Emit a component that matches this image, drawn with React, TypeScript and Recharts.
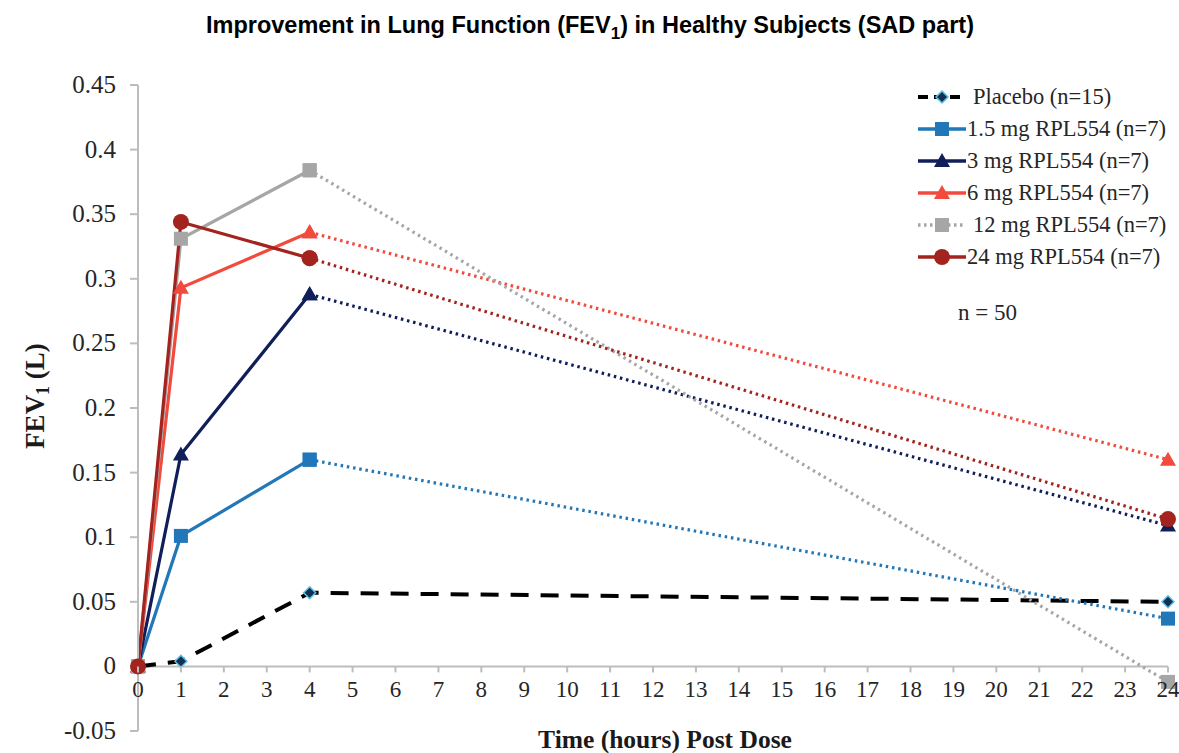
import { Legend, Line, LineChart, ReferenceLine, XAxis, YAxis } from "recharts";

// time points (hours post dose)
const hours = [0, 1, 4, 24];

// FEV1 change (L) per dose group
const placebo = [0, 0.004, 0.057, 0.05];
const mg1_5 = [0, 0.101, 0.16, 0.037];
const mg3 = [0, 0.164, 0.288, 0.109];
const mg6 = [0, 0.293, 0.336, 0.16];
const mg12 = [0, 0.331, 0.384, -0.012];
const mg24 = [0, 0.344, 0.316, 0.114];

const seriesNames = [
  "Placebo (n=15)",
  "1.5 mg RPL554 (n=7)",
  "3 mg RPL554 (n=7)",
  "6 mg RPL554 (n=7)",
  "12 mg RPL554 (n=7)",
  "24 mg RPL554 (n=7)",
];

const xTicks = [0, 1, 2, 3, 4, 5, 6, 7, 8, 9, 10, 11, 12, 13, 14, 15, 16, 17, 18, 19, 20, 21, 22, 23, 24];
const yTicks = [-0.05, 0, 0.05, 0.1, 0.15, 0.2, 0.25, 0.3, 0.35, 0.4, 0.45];

const W = 1179;
const H = 753;
const TOP = 85;
const X_AXIS_H = 20;
const BOTTOM = 2;
const Y_MIN = -0.05;
const Y_MAX = 0.45;
const PLOT_H = H - TOP - BOTTOM - X_AXIS_H;
const ZERO_Y = TOP + (Y_MAX / (Y_MAX - Y_MIN)) * PLOT_H;

const AXIS = "#bdbdbd";
const SERIF = "Liberation Serif";

type Shape = "diamond" | "square" | "triangle" | "circle";

const groups = [
  { key: "placebo", values: placebo, color: "#000000", fill: "#14304f", edge: "#5cc0ea", shape: "diamond" as Shape, dashed: true },
  { key: "g15", values: mg1_5, color: "#2277b8", fill: "#2277b8", edge: "#2277b8", shape: "square" as Shape },
  { key: "g3", values: mg3, color: "#101e5a", fill: "#101e5a", edge: "#101e5a", shape: "triangle" as Shape },
  { key: "g6", values: mg6, color: "#f24a3d", fill: "#f24a3d", edge: "#f24a3d", shape: "triangle" as Shape },
  { key: "g12", values: mg12, color: "#a6a6a6", fill: "#a6a6a6", edge: "#a6a6a6", shape: "square" as Shape, legendDotted: true },
  { key: "g24", values: mg24, color: "#a3231f", fill: "#a3231f", edge: "#a3231f", shape: "circle" as Shape },
];

// solid part runs 0..4 h, dotted part 4..24 h
const rows = hours.map((h, i) => {
  const row: Record<string, number | null> = { hour: h };
  groups.forEach((g) => {
    if (g.dashed) {
      row[g.key] = g.values[i];
    } else {
      row[g.key + "_a"] = i <= 2 ? g.values[i] : null;
      row[g.key + "_b"] = i >= 2 ? g.values[i] : null;
    }
  });
  return row;
});

function marker(shape: Shape, cx: number, cy: number, fill: string, edge: string, key?: string) {
  if (shape === "diamond") {
    const s = 6;
    return (
      <polygon key={key} points={`${cx},${cy - s} ${cx + s},${cy} ${cx},${cy + s} ${cx - s},${cy}`} fill={fill} stroke={edge} strokeWidth={1.5} />
    );
  }
  if (shape === "square") {
    const s = 7;
    return <rect key={key} x={cx - s} y={cy - s} width={s * 2} height={s * 2} fill={fill} />;
  }
  if (shape === "triangle") {
    const s = 8;
    return <polygon key={key} points={`${cx},${cy - s} ${cx + s},${cy + s * 0.75} ${cx - s},${cy + s * 0.75}`} fill={fill} />;
  }
  return <circle key={key} cx={cx} cy={cy} r={8} fill={fill} />;
}

const makeDot = (shape: Shape, fill: string, edge: string) => (props: any) => {
  const { cx, cy, index, dataKey } = props;
  if (cx == null || cy == null || props.value == null) return <g key={`${dataKey}-${index}`} />;
  return marker(shape, cx, cy, fill, edge, `${dataKey}-${index}`);
};

const XTick = (props: any) => {
  const { x, payload } = props;
  return (
    <g>
      <line x1={x} x2={x} y1={ZERO_Y} y2={ZERO_Y + 6} stroke={AXIS} strokeWidth={2} />
      <text x={x} y={ZERO_Y + 31} textAnchor="middle" fontFamily={SERIF} fontSize={23} fill="#262626">
        {payload.value}
      </text>
    </g>
  );
};

const YTick = (props: any) => {
  const { x, y, payload } = props;
  return (
    <text x={x} y={y + 8} textAnchor="end" fontFamily={SERIF} fontSize={25} fill="#262626">
      {payload.value}
    </text>
  );
};

const LegendBox = (props: any) => {
  const payload = (props.payload || []).filter((p: any) => seriesNames.includes(p.value));
  payload.sort((a: any, b: any) => seriesNames.indexOf(a.value) - seriesNames.indexOf(b.value));
  return (
    <div style={{ fontFamily: SERIF, fontSize: 22.5, color: "#262626", lineHeight: "32px", whiteSpace: "nowrap" }}>
      {payload.map((p: any) => {
        const g = groups[seriesNames.indexOf(p.value)];
        return (
          <div key={p.value} style={{ display: "flex", alignItems: "center", height: 32 }}>
            <svg width={50} height={20} style={{ marginRight: g.dashed || g.legendDotted ? 7 : 1, flexShrink: 0 }}>
              <line
                x1={2}
                x2={50}
                y1={10}
                y2={10}
                stroke={g.color}
                strokeWidth={g.dashed ? 4 : 3.4}
                strokeDasharray={g.dashed ? "10 6" : g.legendDotted ? "2.5 3.5" : undefined}
              />
              {marker(g.shape, 26, 10, g.fill, g.edge)}
            </svg>
            <span>{p.value}</span>
          </div>
        );
      })}
      <div style={{ marginTop: 24, marginLeft: 42, fontSize: 23 }}>n = 50</div>
    </div>
  );
};

export default function App() {
  return (
    <div style={{ position: "absolute", left: 0, top: 0, width: W, height: H, background: "#fff" }}>
      <div
        style={{
          position: "absolute",
          left: 0,
          top: 12,
          width: 1180,
          textAlign: "center",
          fontFamily: "Liberation Sans",
          fontWeight: "bold",
          fontSize: 23.5,
          color: "#000",
          zIndex: 2,
        }}
      >
        Improvement in Lung Function (FEV<sub style={{ fontSize: 17 }}>1</sub>) in Healthy Subjects (SAD part)
      </div>
      <LineChart width={W} height={H} data={rows} margin={{ top: TOP, right: 11, bottom: BOTTOM, left: 0 }}>
        <XAxis
          dataKey="hour"
          type="number"
          domain={[0, 24]}
          ticks={xTicks}
          axisLine={false}
          tickLine={false}
          height={X_AXIS_H}
          tick={XTick}
          interval={0}
          label={{
            content: () => (
              <text x={665} y={748} textAnchor="middle" fontFamily={SERIF} fontWeight="bold" fontSize={25.5} fill="#1a1a1a">
                Time (hours) Post Dose
              </text>
            ),
          }}
        />
        <YAxis
          type="number"
          domain={[Y_MIN, Y_MAX]}
          ticks={yTicks}
          width={138}
          interval={0}
          axisLine={{ stroke: AXIS, strokeWidth: 2 }}
          tickLine={{ stroke: AXIS, strokeWidth: 2 }}
          tickSize={8}
          tickMargin={14}
          tick={YTick}
          label={{
            content: (lp: any) => {
              const vb = lp.viewBox || {};
              const cy = (vb.y ?? TOP) + (vb.height ?? PLOT_H) / 2 - 12;
              return (
                <text
                  x={44}
                  y={cy}
                  transform={`rotate(-90, 44, ${cy})`}
                  textAnchor="middle"
                  fontFamily={SERIF}
                  fontWeight="bold"
                  fontSize={27}
                  fill="#1a1a1a"
                >
                  FEV
                  <tspan fontSize={18} dy={5}>1</tspan>
                  <tspan dy={-5}> (L)</tspan>
                </text>
              );
            },
          }}
        />
        <ReferenceLine y={0} stroke={AXIS} strokeWidth={2} />
        <Legend
          layout="vertical"
          align="center"
          verticalAlign="middle"
          content={LegendBox}
          wrapperStyle={{ position: "absolute", left: 916, top: 81, width: 263, height: "auto" }}
        />
        {groups.map((g, gi) =>
          g.dashed ? (
            <Line
              key={g.key}
              name={seriesNames[gi]}
              dataKey={g.key}
              stroke={g.color}
              strokeWidth={4}
              strokeDasharray="18 12"
              dot={makeDot(g.shape, g.fill, g.edge)}
              isAnimationActive={false}
            />
          ) : (
            [
              <Line
                key={g.key + "_b"}
                name={seriesNames[gi] + " "}
                legendType="none"
                dataKey={g.key + "_b"}
                stroke={g.color}
                strokeWidth={3.2}
                strokeDasharray="2.5 3.8"
                dot={makeDot(g.shape, g.fill, g.edge)}
                isAnimationActive={false}
              />,
              <Line
                key={g.key + "_a"}
                name={seriesNames[gi]}
                dataKey={g.key + "_a"}
                stroke={g.color}
                strokeWidth={3.2}
                dot={makeDot(g.shape, g.fill, g.edge)}
                isAnimationActive={false}
              />,
            ]
          )
        )}
      </LineChart>
    </div>
  );
}
